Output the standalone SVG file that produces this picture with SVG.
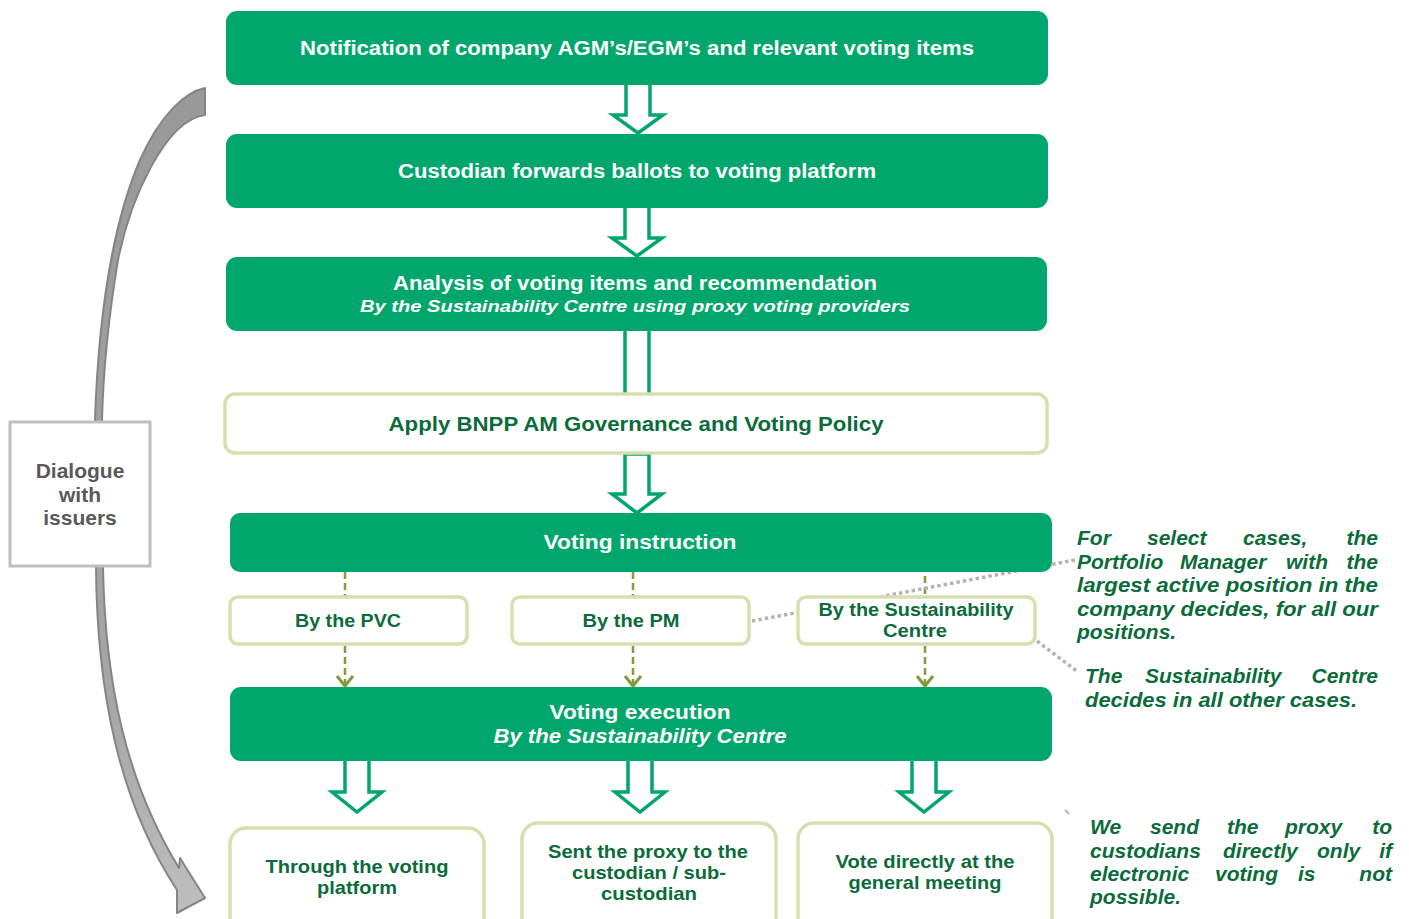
<svg xmlns="http://www.w3.org/2000/svg" width="1409" height="919" viewBox="0 0 1409 919">
<defs>
<style>
.gbox{fill:#00A66B;}
.wbox{fill:#FFFFFF;stroke:#D6DFAE;stroke-width:3.5;}
.ht{font-family:"Liberation Sans",Arial,sans-serif;font-weight:bold;fill:#FFFFFF;text-anchor:middle;}
.dt{font-family:"Liberation Sans",Arial,sans-serif;font-weight:bold;fill:#0B6B3A;text-anchor:middle;}
.it{font-style:italic;}
.note{font-family:"Liberation Sans",Arial,sans-serif;font-weight:bold;font-style:italic;fill:#0B6B3A;font-size:21px;}
.end{text-anchor:end;}
.harrow{fill:#FFFFFF;stroke:#00A66B;stroke-width:3.5;stroke-linejoin:miter;}
.dash{fill:none;stroke:#7F9B3B;stroke-width:2.5;stroke-dasharray:7 4;}
.chev{fill:none;stroke:#7F9B3B;stroke-width:3;}
.dot{fill:none;stroke:#B3B3B3;stroke-width:3.5;stroke-dasharray:3.5 3;}
.dlg{font-family:"Liberation Sans",Arial,sans-serif;font-weight:bold;font-size:21px;fill:#595959;text-anchor:middle;}
</style>
<linearGradient id="grayFill" x1="0" y1="88" x2="0" y2="913" gradientUnits="userSpaceOnUse">
  <stop offset="0" stop-color="#999999"/>
  <stop offset="0.75" stop-color="#A6A6A6"/>
  <stop offset="1" stop-color="#BEBEBE"/>
</linearGradient>
</defs>
<rect width="1409" height="919" fill="#FFFFFF"/>

<g id="connectors">
  <!-- curved gray arrow -->
  <path d="M205,88 L205,115 C165,120 130,200 118,260 C108,320 103,380 102,420 L103,567 C105,680 125,780 179,868 L180,858 L205,898 L177,913 L177,890 C118,800 97,690 96,567 L95,420 C98,330 110,230 140,160 C160,115 185,92 205,88 Z" fill="url(#grayFill)" stroke="#858585" stroke-width="2" stroke-linejoin="round"/>
  <!-- hollow arrows -->
  <polygon class="harrow" points="626,83 626,115 613,115 638,133 663,115 650,115 650,83"/>
  <polygon class="harrow" points="625,206 625,238 612,238 637,256 662,238 649,238 649,206"/>
  <rect x="625" y="329" width="24" height="64" fill="#FFFFFF"/>
  <line x1="625" y1="329" x2="625" y2="393" stroke="#00A66B" stroke-width="3.5"/>
  <line x1="649" y1="329" x2="649" y2="393" stroke="#00A66B" stroke-width="3.5"/>
  <polygon class="harrow" points="625,454 625,494 612,494 637,513 662,494 649,494 649,454"/>
  <polygon class="harrow" points="345,759 345,792 332,792 357,812 382,792 369,792 369,759"/>
  <polygon class="harrow" points="628,759 628,792 615,792 640,812 665,792 652,792 652,759"/>
  <polygon class="harrow" points="912,759 912,792 899,792 924,812 949,792 936,792 936,759"/>
  <!-- dashed connectors -->
  <line class="dash" x1="345" y1="572" x2="345" y2="596"/>
  <line class="dash" x1="633" y1="572" x2="633" y2="596"/>
  <line class="dash" x1="925" y1="576" x2="925" y2="596"/>
  <line class="dash" x1="345" y1="646" x2="345" y2="684"/>
  <line class="dash" x1="633" y1="646" x2="633" y2="684"/>
  <line class="dash" x1="925" y1="646" x2="925" y2="684"/>
  <polyline class="chev" points="337,676 345,686 353,676"/>
  <polyline class="chev" points="625,676 633,686 641,676"/>
  <polyline class="chev" points="917,676 925,686 933,676"/>
  <!-- gray dotted leaders -->
  <line class="dot" x1="752" y1="621" x2="1075" y2="560"/>
  <line class="dot" x1="1037" y1="641" x2="1078" y2="672"/>
  <line x1="1065" y1="810" x2="1069" y2="814" stroke="#B3B3B3" stroke-width="2"/>
</g>

<g id="node-notification">
  <rect class="gbox" x="226" y="11" width="822" height="74" rx="11"/>
  <text class="ht" x="637" y="55" font-size="20" textLength="674" lengthAdjust="spacingAndGlyphs">Notification of company AGM’s/EGM’s and relevant voting items</text>
</g>
<g id="node-custodian">
  <rect class="gbox" x="226" y="134" width="822" height="74" rx="11"/>
  <text class="ht" x="637" y="178" font-size="20" textLength="478" lengthAdjust="spacingAndGlyphs">Custodian forwards ballots to voting platform</text>
</g>
<g id="node-analysis">
  <rect class="gbox" x="226" y="257" width="821" height="74" rx="11"/>
  <text class="ht" x="635" y="290" font-size="20" textLength="484" lengthAdjust="spacingAndGlyphs">Analysis of voting items and recommendation</text>
  <text class="ht it" x="635" y="312" font-size="17" textLength="550" lengthAdjust="spacingAndGlyphs">By the Sustainability Centre using proxy voting providers</text>
</g>
<g id="node-policy">
  <rect class="wbox" x="225" y="394" width="822" height="59" rx="10"/>
  <text class="dt" x="636" y="431" font-size="20" textLength="495" lengthAdjust="spacingAndGlyphs">Apply BNPP AM Governance and Voting Policy</text>
</g>
<g id="node-instruction">
  <rect class="gbox" x="230" y="513" width="822" height="59" rx="10"/>
  <text class="ht" x="640" y="549" font-size="20" textLength="193" lengthAdjust="spacingAndGlyphs">Voting instruction</text>
</g>
<g id="node-pvc">
  <rect class="wbox" x="230" y="597" width="237" height="47" rx="8"/>
  <text class="dt" x="348" y="627" font-size="18" textLength="106" lengthAdjust="spacingAndGlyphs">By the PVC</text>
</g>
<g id="node-pm">
  <rect class="wbox" x="512" y="597" width="237" height="47" rx="8"/>
  <text class="dt" x="631" y="627" font-size="18" textLength="97" lengthAdjust="spacingAndGlyphs">By the PM</text>
</g>
<g id="node-sc">
  <rect class="wbox" x="798" y="597" width="237" height="47" rx="8"/>
  <text class="dt" x="916" y="616" font-size="18" textLength="195" lengthAdjust="spacingAndGlyphs">By the Sustainability</text>
  <text class="dt" x="915" y="637" font-size="18" textLength="64" lengthAdjust="spacingAndGlyphs">Centre</text>
</g>
<g id="node-execution">
  <rect class="gbox" x="230" y="687" width="822" height="74" rx="11"/>
  <text class="ht" x="640" y="719" font-size="20" textLength="181" lengthAdjust="spacingAndGlyphs">Voting execution</text>
  <text class="ht it" x="640" y="743" font-size="20" textLength="293" lengthAdjust="spacingAndGlyphs">By the Sustainability Centre</text>
</g>
<g id="node-platform">
  <rect class="wbox" x="230" y="828" width="254" height="110" rx="16"/>
  <text class="dt" x="357" y="873" font-size="18.5" textLength="183" lengthAdjust="spacingAndGlyphs">Through the voting</text>
  <text class="dt" x="357" y="894" font-size="18.5" textLength="80" lengthAdjust="spacingAndGlyphs">platform</text>
</g>
<g id="node-proxy">
  <rect class="wbox" x="522" y="823" width="254" height="115" rx="16"/>
  <text class="dt" x="648" y="858" font-size="18.5" textLength="200" lengthAdjust="spacingAndGlyphs">Sent the proxy to the</text>
  <text class="dt" x="649" y="879" font-size="18.5" textLength="154" lengthAdjust="spacingAndGlyphs">custodian / sub-</text>
  <text class="dt" x="649" y="900" font-size="18.5" textLength="96" lengthAdjust="spacingAndGlyphs">custodian</text>
</g>
<g id="node-direct">
  <rect class="wbox" x="798" y="823" width="254" height="115" rx="16"/>
  <text class="dt" x="925" y="868" font-size="18.5" textLength="179" lengthAdjust="spacingAndGlyphs">Vote directly at the</text>
  <text class="dt" x="925" y="889" font-size="18.5" textLength="153" lengthAdjust="spacingAndGlyphs">general meeting</text>
</g>
<g id="node-dialogue">
  <rect x="10" y="422" width="140" height="144" fill="#FFFFFF" stroke="#BFBFBF" stroke-width="3"/>
  <text class="dlg" x="80" y="478">Dialogue</text>
  <text class="dlg" x="80" y="502">with</text>
  <text class="dlg" x="80" y="525">issuers</text>
</g>

<g id="note-pm">
  <text class="note" x="1077" y="545">For</text>
  <text class="note" x="1147" y="545">select</text>
  <text class="note" x="1243" y="545">cases,</text>
  <text class="note end" x="1378" y="545">the</text>
  <text class="note" x="1077" y="569">Portfolio</text>
  <text class="note" x="1180" y="569">Manager</text>
  <text class="note" x="1286" y="569">with</text>
  <text class="note end" x="1378" y="569">the</text>
  <text class="note" x="1077" y="592" textLength="301" lengthAdjust="spacingAndGlyphs">largest active position in the</text>
  <text class="note" x="1077" y="616" textLength="301" lengthAdjust="spacingAndGlyphs">company decides, for all our</text>
  <text class="note" x="1077" y="639">positions.</text>
</g>
<g id="note-sc">
  <text class="note" x="1085" y="683">The</text>
  <text class="note" x="1145" y="683">Sustainability</text>
  <text class="note end" x="1378" y="683">Centre</text>
  <text class="note" x="1085" y="707" textLength="272" lengthAdjust="spacingAndGlyphs">decides in all other cases.</text>
</g>
<g id="note-proxy">
  <text class="note" x="1090" y="834">We</text>
  <text class="note" x="1150" y="834">send</text>
  <text class="note" x="1227" y="834">the</text>
  <text class="note" x="1285" y="834">proxy</text>
  <text class="note end" x="1392" y="834">to</text>
  <text class="note" x="1090" y="858">custodians</text>
  <text class="note" x="1223" y="858">directly</text>
  <text class="note" x="1317" y="858">only</text>
  <text class="note end" x="1392" y="858">if</text>
  <text class="note" x="1090" y="881">electronic</text>
  <text class="note" x="1215" y="881">voting</text>
  <text class="note" x="1298" y="881">is</text>
  <text class="note end" x="1392" y="881">not</text>
  <text class="note" x="1090" y="904">possible.</text>
</g>
</svg>
